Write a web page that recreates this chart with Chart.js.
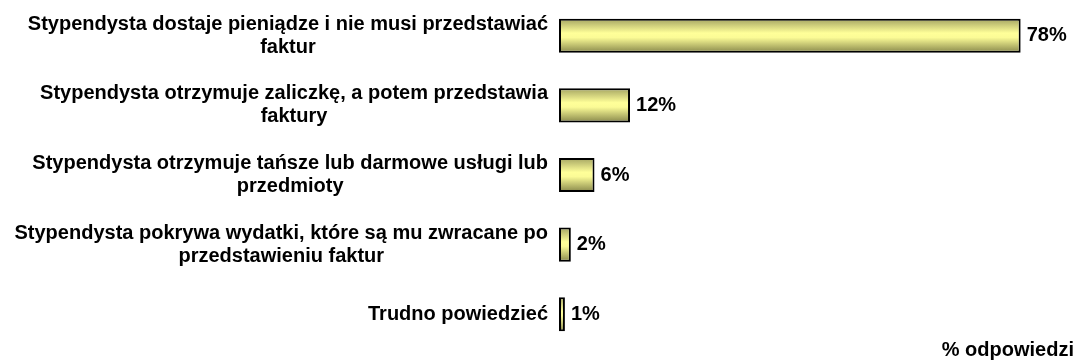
<!DOCTYPE html>
<html>
<head>
<meta charset="utf-8">
<script src="https://cdn.jsdelivr.net/npm/chart.js@4.4.1/dist/chart.umd.min.js"></script>
<style>
  html, body { margin: 0; padding: 0; background: #fff; }
  #wrap { width: 1077px; height: 360px; }
</style>
</head>
<body>
<div id="wrap"><canvas id="odpowiedziChart"></canvas></div>
<script>
const kategorie = [
  ['Stypendysta dostaje pieniądze i nie musi przedstawiać', 'faktur'],
  ['Stypendysta otrzymuje zaliczkę, a potem przedstawia', 'faktury'],
  ['Stypendysta otrzymuje tańsze lub darmowe usługi lub', 'przedmioty'],
  ['Stypendysta pokrywa wydatki, które są mu zwracane po', 'przedstawieniu faktur'],
  ['Trudno powiedzieć']
];
const procenty = [78, 12, 6, 2, 1];
const tytulOsi = '% odpowiedzi';

const FONT = 'bold 20px "Liberation Sans", Arial, sans-serif';
const BAR_FRAC = 0.49;
const LINIA = 23;

// vertical shading of each bar, dark olive at the edges, pale yellow inside
function cieniowanie(ctx) {
  const chart = ctx.chart;
  const y = chart.scales.y;
  if (!chart.chartArea || !y) return '#ffff99';
  const srodek = y.getPixelForValue(ctx.dataIndex);
  const pol = (y.height / kategorie.length) * BAR_FRAC / 2;
  const g = chart.ctx.createLinearGradient(0, srodek - pol, 0, srodek + pol);
  g.addColorStop(0, '#a4a462');
  g.addColorStop(0.42, '#ffff99');
  g.addColorStop(0.55, '#fbfb96');
  g.addColorStop(1, '#86864a');
  return g;
}

const napisy = {
  id: 'napisy',
  afterDatasetsDraw(chart) {
    const c = chart.ctx;
    const y = chart.scales.y;
    const area = chart.chartArea;
    const meta = chart.getDatasetMeta(0);
    c.save();
    c.font = FONT;
    c.fillStyle = '#000';
    c.textBaseline = 'middle';

    // category labels: block right-aligned to the axis, lines centred in it
    kategorie.forEach((linie, i) => {
      const srodek = y.getPixelForValue(i);
      const szer = Math.max(...linie.map(l => c.measureText(l).width));
      const x = area.left - 11 - szer / 2;
      const y0 = srodek - (linie.length - 1) * LINIA / 2;
      c.textAlign = 'center';
      linie.forEach((l, k) => c.fillText(l, x, y0 + k * LINIA));
    });

    c.textAlign = 'left';
    meta.data.forEach((bar, i) => {
      c.fillText(procenty[i] + '%', bar.x + 6, bar.y);
    });

    c.textAlign = 'right';
    c.fillText(tytulOsi, 1074, 350);
    c.restore();
  }
};

new Chart(document.getElementById('odpowiedziChart'), {
  type: 'bar',
  data: {
    labels: kategorie,
    datasets: [{
      data: procenty,
      backgroundColor: cieniowanie,
      borderColor: '#000',
      borderWidth: 2,
      borderSkipped: false,
      barPercentage: BAR_FRAC,
      categoryPercentage: 1
    }]
  },
  options: {
    indexAxis: 'y',
    responsive: true,
    maintainAspectRatio: false,
    animation: false,
    layout: { padding: { left: 559, right: 9, top: 1, bottom: 11 } },
    scales: {
      x: { display: false, min: 0, max: 86 },
      y: { display: false }
    },
    plugins: {
      legend: { display: false },
      tooltip: { enabled: false }
    }
  },
  plugins: [napisy]
});
</script>
</body>
</html>
